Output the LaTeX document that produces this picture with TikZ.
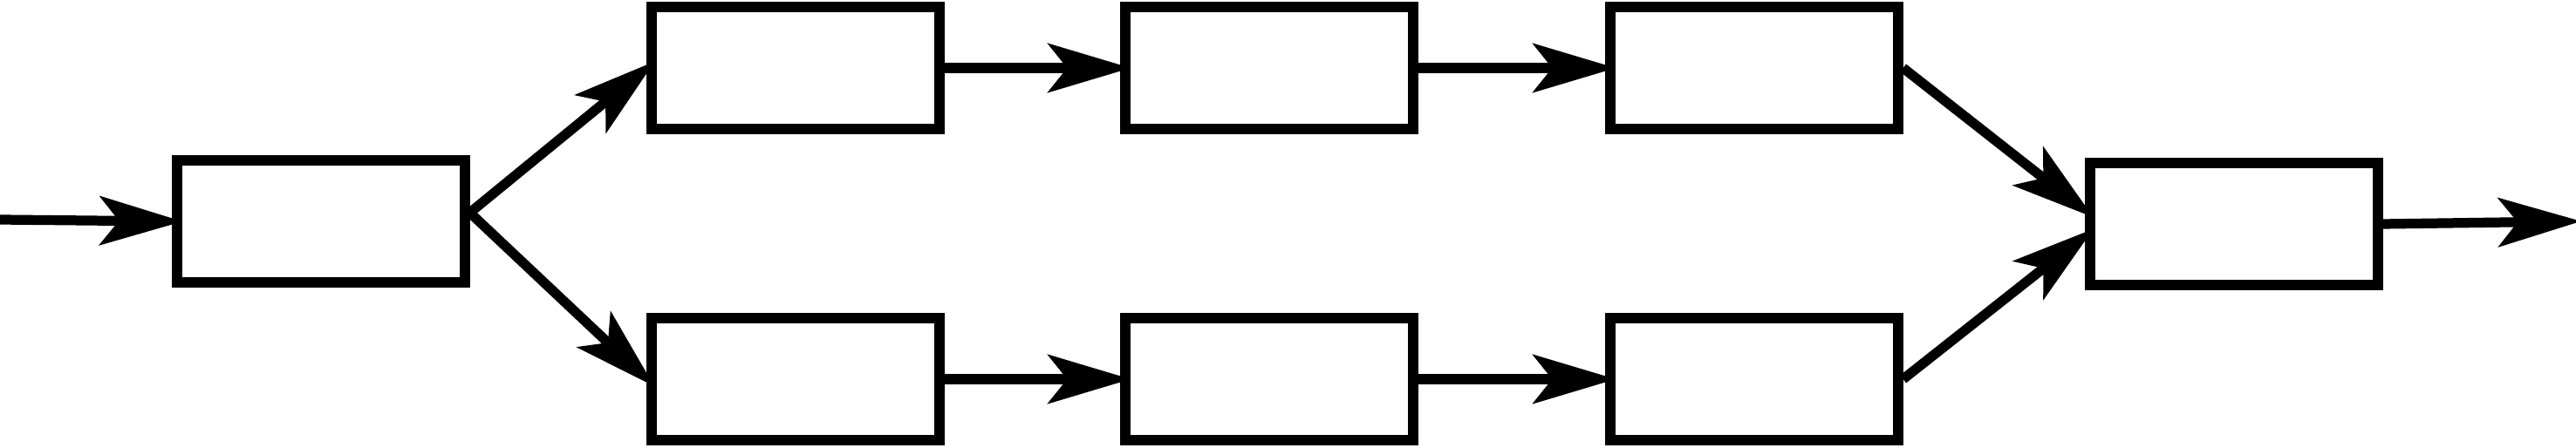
\documentclass[tikz,border=0pt]{standalone}
\usetikzlibrary{arrows.meta}
\begin{document}
\begin{tikzpicture}[
	block/.style={draw, line width=3.2pt, minimum width=3.30cm, minimum height=1.40cm, inner sep=0pt},
	flow/.style={line width=3.2pt, -{Stealth[length=9.5mm, width=5.6mm, inset=2.2mm]}, shorten >=-1.2mm}
	]
			\useasboundingbox (0,0) rectangle (29.53,5.14);
			\node[block] (split) at (3.68,2.60) {};
			\node[block] (up1) at (9.12,4.36) {};
			\node[block] (up2) at (14.55,4.36) {};
			\node[block] (up3) at (20.11,4.36) {};
			\node[block] (lo1) at (9.12,0.79) {};
			\node[block] (lo2) at (14.55,0.79) {};
			\node[block] (lo3) at (20.11,0.79) {};
			\node[block] (merge) at (25.61,2.57) {};
			\coordinate (in) at (0,2.62);
			\coordinate (out) at (29.47,2.60);
			\draw[flow] (in) -- (split.west);
			\draw[flow] ([yshift=1mm]split.east) -- (up1.west);
			\draw[flow] ([yshift=1mm]split.east) -- (lo1.west);
			\draw[flow] (up1) -- (up2);
			\draw[flow] (up2) -- (up3);
			\draw[flow] (lo1) -- (lo2);
			\draw[flow] (lo2) -- (lo3);
			\draw[flow] (up3.east) -- ([yshift=1.5mm]merge.west);
			\draw[flow] (lo3.east) -- ([yshift=-1.3mm]merge.west);
			\draw[flow] (merge.east) -- (out);
			\end{tikzpicture}
\end{document}
